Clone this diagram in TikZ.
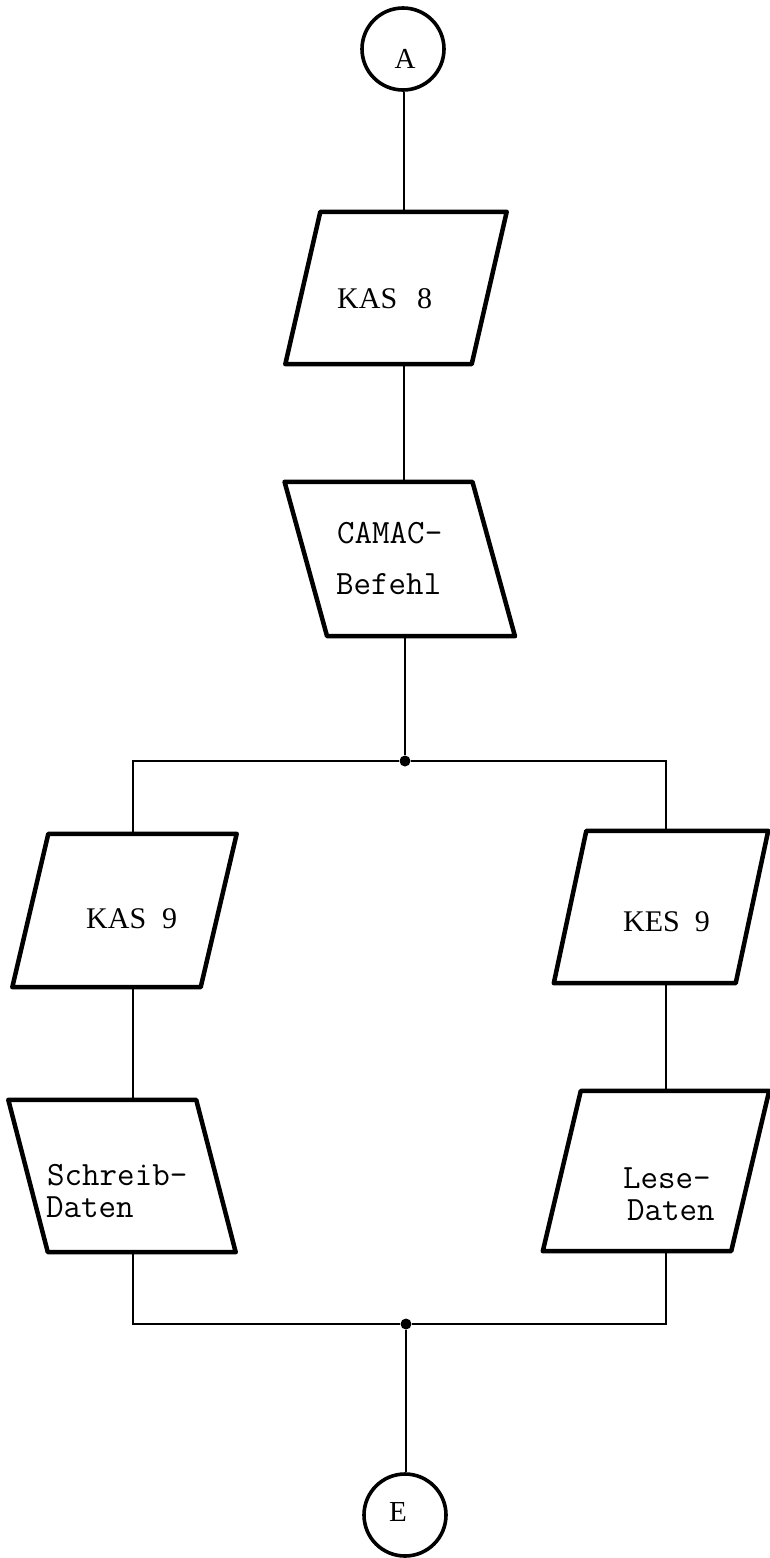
\documentclass[tikz,border=0pt]{standalone}
\usepackage{fontspec}
\usetikzlibrary{calc}
\newfontfamily\labelserif{Liberation Serif}
% outline of an input/output box: node name, half of the horizontal slant
\newcommand\iooutline[2]{%
  \draw[outline] ($(#1.north west)+(#2,0)$) -- ($(#1.north east)+(#2,0)$)
    -- ($(#1.south east)-(#2,0)$) -- ($(#1.south west)-(#2,0)$) -- cycle;}
\begin{document}
\begin{tikzpicture}[x=1pt,y=-1pt,
  connector/.style={line width=2.6pt},
  outline/.style={line width=4.5pt, line join=round},
  iobox/.style={rectangle, draw=none, inner sep=0pt},
  terminal/.style={circle, draw, line width=3.6pt, minimum size=82pt, inner sep=0pt},
  serif/.style={font=\labelserif\fontsize{30}{36}\selectfont, inner sep=0pt},
  termfont/.style={font=\labelserif\fontsize{29}{34}\selectfont, inner sep=0pt},
  mono/.style={font=\ttfamily\fontsize{34}{40}\selectfont, inner sep=0pt},
  junction/.style={circle, fill, inner sep=0pt, minimum size=11pt}]
\useasboundingbox (0,0) rectangle (769,1558);

% connectors A and E
\node[terminal, label={[termfont, xshift=2pt, yshift=-10pt]center:A}] (A) at (403,49) {};
\node[terminal, label={[termfont, xshift=-7pt, yshift=3pt]center:E}] (E) at (405,1515) {};

% input/output boxes
\node[iobox, minimum width=186pt, minimum height=152pt] (k8) at (396,288) {};
\node[iobox, minimum width=187.5pt, minimum height=154pt] (cam) at (399.75,559) {};
\node[iobox, minimum width=188pt, minimum height=153pt] (k9) at (124.5,910.5) {};
\node[iobox, minimum width=181.5pt, minimum height=152pt] (kes) at (661,907) {};
\node[iobox, minimum width=187.5pt, minimum height=152pt] (sch) at (122,1176) {};
\node[iobox, minimum width=188pt, minimum height=160pt] (les) at (656,1171) {};
\iooutline{k8}{17.5}
\iooutline{cam}{-21.25}
\iooutline{k9}{18}
\iooutline{kes}{16.25}
\iooutline{sch}{-19.75}
\iooutline{les}{19}

% box texts
\node[serif, anchor=base west] (k8txt) at (337,308) {KAS\hspace{20pt}8};
\node[mono, anchor=base west] (camtxta) at (337,543) {CAMAC-};
\node[mono, anchor=base west] (camtxtb) at (336,594) {Befehl};
\node[serif, anchor=base west] (k9txt) at (86,928) {KAS\hspace{16pt}9};
\node[serif, anchor=base west] (kestxt) at (623,931) {KES\hspace{15pt}9};
\node[mono, anchor=base west] (schtxta) at (47,1185) {Schreib-};
\node[mono, anchor=base west] (schtxtb) at (46,1217) {Daten};
\node[mono, anchor=base west] (lestxta) at (623,1188) {Lese-};
\node[mono, anchor=base west] (lestxtb) at (627,1220) {Daten};

% branch points and columns
\node[junction] (split) at (405,761) {};
\node[junction] (join) at (406,1324) {};
\coordinate (maincol) at (404,0);
\coordinate (lcol) at (133,0);
\coordinate (rcol) at (666,0);

% main column
\draw[connector] (A.south -| maincol) -- (k8.north -| maincol);
\draw[connector] (k8.south -| maincol) -- (cam.north -| maincol);
\draw[connector] (cam.south -| split) -- (split);

% left branch
\draw[connector] (split) -- (split -| lcol) -- (lcol |- k9.north);
\draw[connector] (k9.south -| lcol) -- (lcol |- sch.north);
\draw[connector] (sch.south -| lcol) -- (lcol |- join) -- (join);

% right branch
\draw[connector] (split) -- (split -| rcol) -- (rcol |- kes.north);
\draw[connector] (kes.south -| rcol) -- (rcol |- les.north);
\draw[connector] (les.south -| rcol) -- (rcol |- join) -- (join);

% to E
\draw[connector] (join) -- (E.north -| join);
\end{tikzpicture}
\end{document}
